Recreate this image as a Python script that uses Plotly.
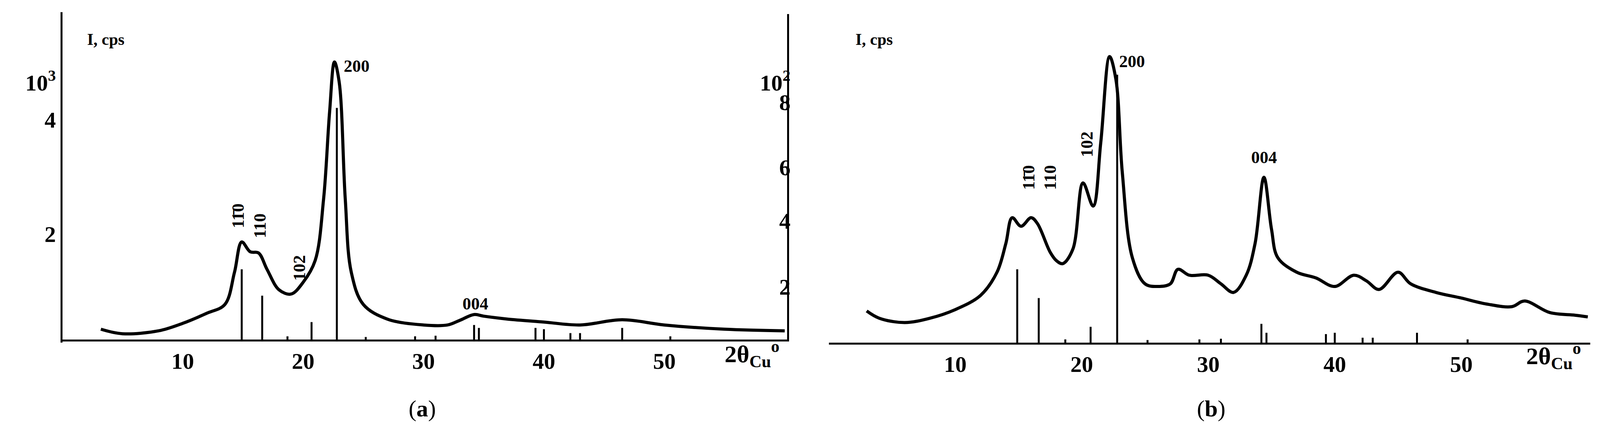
import plotly.graph_objects as go

# Panel (a) experimental curve: 2theta, relative intensity
a_x = [3.2, 5, 8, 10, 12, 13.5, 14.3, 14.9, 15.6, 16.3, 17, 18, 19, 20, 21, 21.7, 22.2, 22.6, 23, 23.5, 24, 25, 27, 30, 32, 33, 34.2, 35, 37, 40, 43, 46.5, 50, 55, 60]
a_y = [0.032, 0.018, 0.027, 0.05, 0.081, 0.108, 0.207, 0.30, 0.27, 0.266, 0.216, 0.153, 0.14, 0.176, 0.243, 0.432, 0.70, 0.853, 0.79, 0.432, 0.207, 0.108, 0.063, 0.045, 0.045, 0.059, 0.077, 0.072, 0.063, 0.054, 0.045, 0.061, 0.045, 0.032, 0.027]
a_sx = [14.9, 16.6, 18.7, 20.7, 22.8, 25.2, 29.3, 31, 34.2, 34.6, 39.3, 40, 42.2, 43, 46.5, 50.5]
a_sy = [0.216, 0.135, 0.01, 0.054, 0.712, 0.008, 0.01, 0.012, 0.045, 0.036, 0.036, 0.032, 0.02, 0.02, 0.036, 0.01]

b_x = [3, 4, 6, 8, 10, 12, 13.3, 14, 14.5, 15.2, 16, 16.5, 17.5, 18, 18.5, 19.3, 20.1, 20.9, 21.5, 22.2, 22.7, 23.2, 24, 25, 26, 27, 27.6, 28.5, 30, 31, 32, 33, 33.7, 34.4, 35, 35.5, 37, 38.5, 40, 41.5, 42.5, 43.5, 45, 46, 48, 50, 52, 54, 55, 57, 59, 60]
b_y = [0.096, 0.074, 0.061, 0.074, 0.1, 0.143, 0.213, 0.3, 0.378, 0.352, 0.378, 0.36, 0.274, 0.248, 0.239, 0.283, 0.483, 0.413, 0.604, 0.865, 0.796, 0.517, 0.257, 0.178, 0.17, 0.178, 0.222, 0.204, 0.204, 0.178, 0.152, 0.204, 0.3, 0.5, 0.343, 0.257, 0.213, 0.196, 0.17, 0.204, 0.187, 0.161, 0.213, 0.178, 0.152, 0.135, 0.117, 0.109, 0.126, 0.091, 0.083, 0.078]
b_sx = [14.9, 16.6, 18.7, 20.7, 22.8, 25.2, 29.3, 31, 34.2, 34.6, 39.3, 40, 42.2, 43, 46.5, 50.5]
b_sy = [0.222, 0.135, 0.01, 0.048, 0.81, 0.008, 0.01, 0.012, 0.057, 0.03, 0.026, 0.03, 0.015, 0.015, 0.03, 0.01]

x_ticks = [10, 20, 30, 40, 50]
a_left_vals = [0.79, 0.676, 0.324]
a_left_text = ["10<sup>3</sup>", "4", "2"]
a_right_vals = [0.79, 0.73, 0.53, 0.365, 0.162]
a_right_text = ["10<sup>2</sup>", "8", "6", "4", "2"]

F = "Liberation Serif"

def sticks(xs, ys):
    X, Y = [], []
    for x, y in zip(xs, ys):
        X += [x, x, None]
        Y += [0, y, None]
    return X, Y

fig = go.Figure()
fig.add_trace(go.Scatter(x=a_x, y=a_y, mode="lines", line=dict(color="black", width=8, shape="spline"), xaxis="x", yaxis="y"))
sx, sy = sticks(a_sx, a_sy)
fig.add_trace(go.Scatter(x=sx, y=sy, mode="lines", line=dict(color="black", width=5), xaxis="x", yaxis="y"))
fig.add_trace(go.Scatter(x=[0], y=[0], mode="markers", marker=dict(opacity=0), xaxis="x", yaxis="y3"))
fig.add_trace(go.Scatter(x=b_x, y=b_y, mode="lines", line=dict(color="black", width=8, shape="spline"), xaxis="x2", yaxis="y2"))
sx, sy = sticks(b_sx, b_sy)
fig.add_trace(go.Scatter(x=sx, y=sy, mode="lines", line=dict(color="black", width=5), xaxis="x2", yaxis="y2"))

bold = lambda L: ["<b>%s</b>" % t for t in L]
axfont = dict(family=F, size=58, color="black")
common_x = dict(range=[0, 60.2], tickvals=x_ticks, ticktext=bold([str(t) for t in x_ticks]), ticks="",
                showgrid=False, zeroline=False, automargin=False,
                showline=True, linecolor="black", linewidth=5, tickfont=axfont)
ycommon = dict(range=[0, 1], showgrid=False, zeroline=False, automargin=False, showline=True,
               linecolor="black", linewidth=5, ticks="", tickfont=axfont)
fig.update_layout(
    autosize=True, margin=dict(l=0, r=0, t=0, b=0),
    paper_bgcolor="white", plot_bgcolor="white", showlegend=False,
    xaxis=dict(domain=[0.037, 0.49], anchor="y", **common_x),
    yaxis=dict(domain=[0.237, 0.975], tickvals=a_left_vals, ticktext=bold(a_left_text), **ycommon),
    yaxis3=dict(overlaying="y", side="right", anchor="x", tickvals=a_right_vals, ticktext=bold(a_right_text),
                ticklabelposition="inside", **ycommon),
    xaxis2=dict(domain=[0.516, 0.992], anchor="y2", **common_x),
    yaxis2=dict(domain=[0.23, 0.98], showticklabels=False, **ycommon),
)

def ann(x, y, text, xr, yr, size=40, angle=0, xanchor="center"):
    fig.add_annotation(x=x, y=y, xref=xr, yref=yr, text=text, showarrow=False, textangle=angle,
                       xanchor=xanchor, font=dict(family=F, size=size, color="black"))

ann(0.0385 + 0.453 * 1.8 / 60.2, 0.94, "<b>I, cps</b>", "paper", "paper", 42, xanchor="left")
ann(0.518 + 0.476 * 1.8 / 60.2, 0.94, "<b>I, cps</b>", "paper", "paper", 42, xanchor="left")
ann(0.037 + 0.453 * 57.3 / 60.2, 0.165, "<b>2θ<sub>Cu</sub><sup>o</sup></b>", "paper", "paper", 62)
ann(0.516 + 0.476 * 57.3 / 60.2, 0.16, "<b>2θ<sub>Cu</sub><sup>o</sup></b>", "paper", "paper", 62)
ann(23.3, 0.84, "<b>200</b>", "x", "y", 44, xanchor="left")
ann(14.6, 0.38, "<b>11\u03040</b>", "x", "y", 44, -90)
ann(16.4, 0.35, "<b>110</b>", "x", "y", 44, -90)
ann(19.7, 0.22, "<b>102</b>", "x", "y", 44, -90)
ann(34.3, 0.11, "<b>004</b>", "x", "y", 44)
ann(22.9, 0.85, "<b>200</b>", "x2", "y2", 44, xanchor="left")
ann(15.8, 0.50, "<b>11\u03040</b>", "x2", "y2", 44, -90)
ann(17.5, 0.50, "<b>110</b>", "x2", "y2", 44, -90)
ann(20.4, 0.60, "<b>102</b>", "x2", "y2", 44, -90)
ann(34.4, 0.56, "<b>004</b>", "x2", "y2", 44)
ann(0.262, 0.05, "(<b>a</b>)", "paper", "paper", 60)
ann(0.755, 0.05, "(<b>b</b>)", "paper", "paper", 60)

fig.write_html("out.html", default_width="100vw", default_height="100vh")
